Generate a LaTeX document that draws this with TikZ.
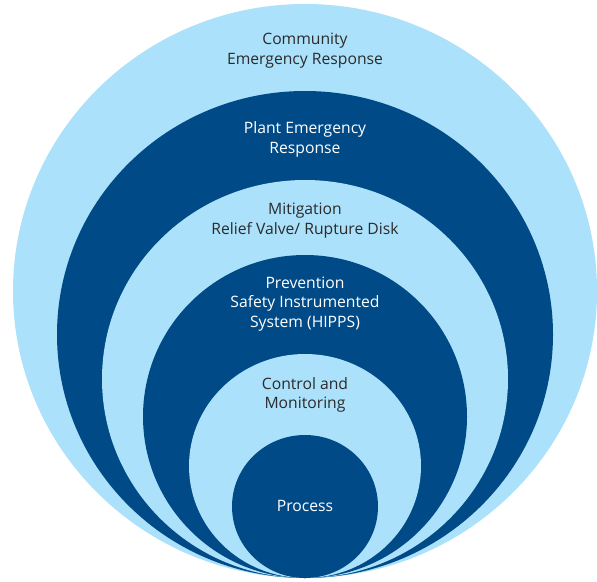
\documentclass[tikz,border=0pt]{standalone}
\usepackage{fontspec}
\setmainfont{Open Sans}
\definecolor{lightb}{HTML}{ABE1FA}
\definecolor{darkb}{HTML}{004B87}
\definecolor{txtd}{HTML}{2B2B2B}
\tikzset{
  lbl/.style={align=center, inner sep=0pt, font=\fontsize{15.7}{19.5}\selectfont},
  ondark/.style={lbl, text=white},
  onlight/.style={lbl, text=txtd},
}
\begin{document}
\begin{tikzpicture}[x=1pt,y=-1pt]
\useasboundingbox (0,0) rectangle (597,581);
\fill[lightb] (305,291) ellipse [x radius=292, y radius=287];
\fill[darkb] (305,334.5) ellipse [x radius=248, y radius=243.5];
\fill[lightb] (305,379) ellipse [x radius=203, y radius=199];
\fill[darkb] (305,416.5) ellipse [x radius=162, y radius=161.5];
\fill[lightb] (305,466) ellipse [x radius=116, y radius=112];
\fill[darkb] (305,506.5) ellipse [x radius=73, y radius=71.5];
\node[onlight] (community) at (305,50.5) {Community\\Emergency Response};
\node[ondark] (plant) at (305,139.5) {Plant Emergency\\Response};
\node[onlight] (mitig) at (305,220.5) {Mitigation\\Relief Valve/ Rupture Disk};
\node[ondark] (prev) at (305,304) {Prevention\\Safety Instrumented\\System (HIPPS)};
\node[onlight] (control) at (305,395) {Control and\\Monitoring};
\node[ondark] (process) at (305,506) {Process};
\end{tikzpicture}
\end{document}
